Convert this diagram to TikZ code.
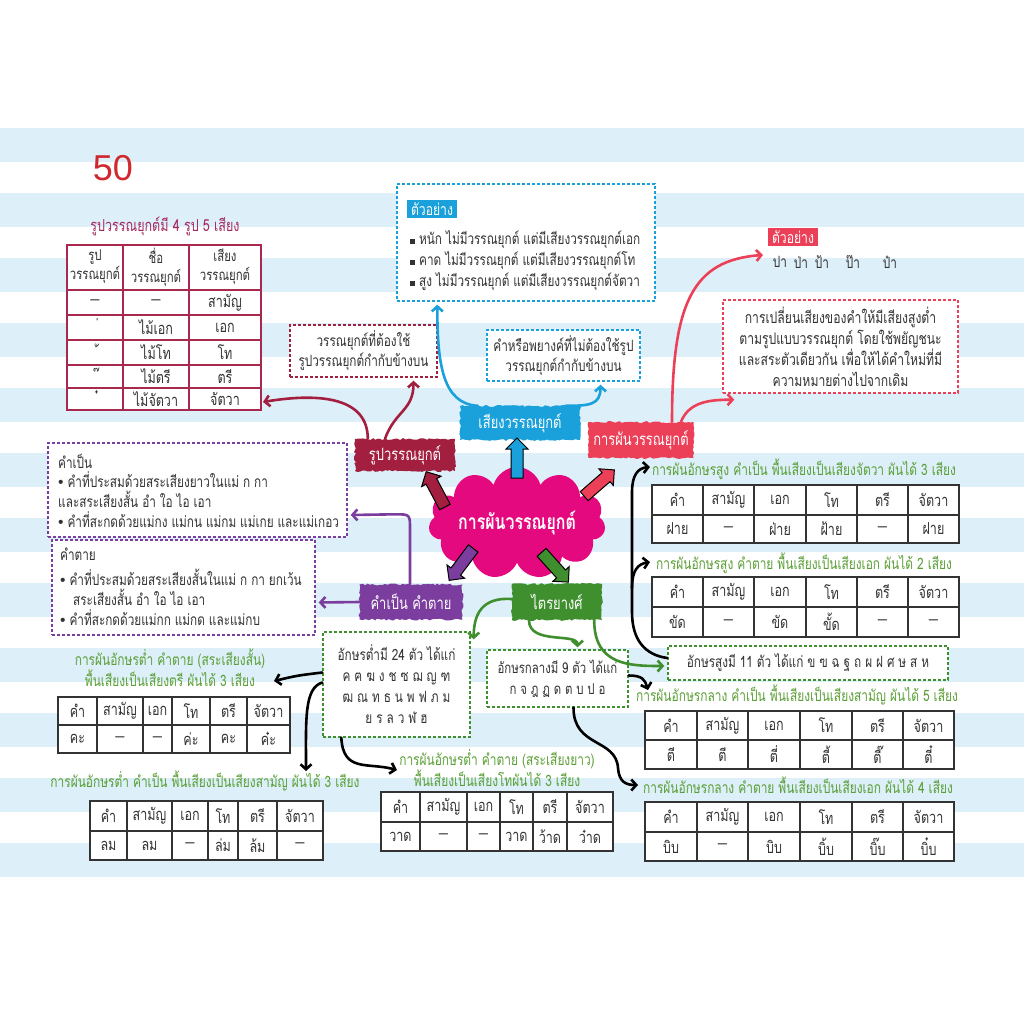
\documentclass[tikz,border=0pt]{standalone}
\usepackage{fontspec}
\setmainfont{Loma}[Script=Thai,FakeStretch=0.76]
\newfontfamily\lat{Liberation Sans}
\usetikzlibrary{shapes.symbols,shapes.arrows,decorations.pathmorphing,calc,arrows.meta}
\definecolor{stripe}{HTML}{DDEFF8}
\definecolor{crim}{HTML}{A31F3F}
\definecolor{tabred}{HTML}{A8284E}
\definecolor{mag}{HTML}{A32862}
\definecolor{cyn}{HTML}{1AA0DA}
\definecolor{rpink}{HTML}{EC4058}
\definecolor{purp}{HTML}{7B3D9E}
\definecolor{grn}{HTML}{3F8F2E}
\definecolor{tgreen}{HTML}{5A9F35}
\definecolor{cpink}{HTML}{E5097F}
\definecolor{numred}{HTML}{D0282E}
\definecolor{ink}{HTML}{333333}
\newcommand\fs[1]{\fontsize{#1}{#1}\selectfont}
\newcommand\dsh{{\lat –}}
\newcommand\bul{{\lat •}}
\newcommand\sqb{\rule[1pt]{5pt}{5pt}}
\newcommand\ttab[6]{%
  \foreach \xx [count=\kk] in {#2}{\expandafter\xdef\csname tbx\romannumeral\kk\endcsname{\xx}}%
  \fill[white] (\tbxi,#3) rectangle (\tbxvii,#5);
  \draw[tabline] (\tbxi,#3) rectangle (\tbxvii,#5);
  \draw[tabline] (\tbxi,#4) -- (\tbxvii,#4);
  \foreach \xx in {\tbxii,\tbxiii,\tbxiv,\tbxv,\tbxvi} \draw[tabline] (\xx,#3) -- (\xx,#5);
  \foreach \cc [count=\kk] in {คำ,สามัญ,เอก,โท,ตรี,จัตวา}{%
    \edef\xa{\csname tbx\romannumeral\kk\endcsname}%
    \edef\xb{\csname tbx\romannumeral\numexpr\kk+1\relax\endcsname}%
    \node[cell] (#1-h\kk) at ({(\xa+\xb)/2},{(#3+#4)/2}) {\cc};}
  \foreach \cc [count=\kk] in {#6}{%
    \edef\xa{\csname tbx\romannumeral\kk\endcsname}%
    \edef\xb{\csname tbx\romannumeral\numexpr\kk+1\relax\endcsname}%
    \node[cell] (#1-r\kk) at ({(\xa+\xb)/2},{(#4+#5)/2}) {\cc};}
}
\begin{document}
\begin{tikzpicture}[x=1pt,y=-1pt,
 txt/.style={inner sep=0pt, text=ink, font=\fs{15.5}},
 dbox/.style={draw=#1, dash pattern=on 3pt off 2pt, line width=1.4pt, fill=white, inner sep=0pt, text=ink, align=center, font=\fontsize{15.5}{20}\selectfont},
 banner/.style={fill=#1, text=white, inner sep=0pt, font=\fs{17}, decorate, decoration={random steps, segment length=2.5pt, amplitude=1pt}},
 tagbox/.style={fill=#1, text=white, inner xsep=4pt, inner ysep=3pt, font=\fs{16}},
 conn/.style={draw=#1, line width=2.6pt, line cap=round, -{Straight Barb[length=5pt,width=11pt]}},
 conn/.default=black,
 bigarrow/.style={single arrow, draw=black, line width=1pt, fill=#1, inner sep=5.5pt, single arrow head extend=5pt, minimum height=40pt},
 cell/.style={inner sep=0pt, font=\fs{16.5}, text=ink},
 tabline/.style={draw=ink, line width=1.1pt},
 gtitle/.style={inner sep=0pt, text=tgreen, font=\fontsize{15.7}{21}\selectfont, align=center},
]
\useasboundingbox (0,0) rectangle (1024,1024);
\fill[white] (0,0) rectangle (1024,1024);
\foreach \k in {0,...,11} \fill[stripe] (0,{128+65*\k}) rectangle (1024,{162+65*\k});

% page number
\node[text=numred, font=\lat\fs{36}, inner sep=0pt] (pg) at (113,168) {50};

% tone-mark table
\node[inner sep=0pt, text=mag, font=\fs{16.5}] (t1) at (165,226) {รูปวรรณยุกต์มี 4 รูป 5 เสียง};
\fill[white] (67,245) rectangle (261,410);
\draw[tabred, line width=1.2pt] (67,245) rectangle (261,410);
\foreach \x in {123,189} \draw[tabred, line width=1.2pt] (\x,245) -- (\x,410);
\foreach \y in {290,315,340,365,388} \draw[tabred, line width=1.2pt] (67,\y) -- (261,\y);
\node[cell, align=center, font=\fontsize{15}{19}\selectfont] (a1) at (95,267) {รูป\\วรรณยุกต์};
\node[cell, align=center, font=\fontsize{15}{19}\selectfont] (a2) at (156,267) {ชื่อ\\วรรณยุกต์};
\node[cell, align=center, font=\fontsize{15}{19}\selectfont] (a3) at (225,267) {เสียง\\วรรณยุกต์};
\node[cell] (b1) at (95,302.5) {\dsh};
\node[cell] (b2) at (156,302.5) {\dsh};
\node[cell] (b3) at (225,302.5) {สามัญ};
\node[cell] (c1) at (95,327.5) {\raisebox{-0.55em}{\phantom{ก}่}};
\node[cell] (c2) at (156,327.5) {ไม้เอก};
\node[cell] (c3) at (225,327.5) {เอก};
\node[cell] (d1) at (95,352.5) {\raisebox{-0.55em}{\phantom{ก}้}};
\node[cell] (d2) at (156,352.5) {ไม้โท};
\node[cell] (d3) at (225,352.5) {โท};
\node[cell] (e1) at (95,376.5) {\raisebox{-0.55em}{\phantom{ก}๊}};
\node[cell] (e2) at (156,376.5) {ไม้ตรี};
\node[cell] (e3) at (225,376.5) {ตรี};
\node[cell] (f1) at (95,399) {\raisebox{-0.55em}{\phantom{ก}๋}};
\node[cell] (f2) at (156,399) {ไม้จัตวา};
\node[cell] (f3) at (225,399) {จัตวา};
\coordinate (tab1arrow) at (263,402);

% example box (cyan)
\node[dbox=cyn, minimum width=258pt, minimum height=117pt] (exbox) at (526,242.5) {};
\node[tagbox=cyn] (extag) at (432,209) {ตัวอย่าง};
\node[txt, anchor=west] (ex1) at (410,240) {\sqb\ หนัก ไม่มีวรรณยุกต์ แต่มีเสียงวรรณยุกต์เอก};
\node[txt, anchor=west] (ex2) at (410,261) {\sqb\ คาด ไม่มีวรรณยุกต์ แต่มีเสียงวรรณยุกต์โท};
\node[txt, anchor=west] (ex3) at (410,282) {\sqb\ สูง ไม่มีวรรณยุกต์ แต่มีเสียงวรรณยุกต์จัตวา};

\node[dbox=crim, minimum width=147pt, minimum height=52pt] (rbox) at (363.5,351) {วรรณยุกต์ที่ต้องใช้\\รูปวรรณยุกต์กำกับข้างบน};
\node[dbox=cyn, minimum width=153pt, minimum height=51pt] (cbox) at (563.5,355.5) {คำหรือพยางค์ที่ไม่ต้องใช้รูป\\วรรณยุกต์กำกับข้างบน};

% top right
\node[tagbox=rpink] (extag2) at (793,237) {ตัวอย่าง};
\node[txt] (w1) at (780,262) {ปา};
\node[txt] (w2) at (801,262) {ป่า};
\node[txt] (w3) at (822,262) {ป้า};
\node[txt] (w4) at (853,262) {ป๊า};
\node[txt] (w5) at (890,262) {ป๋า};
\coordinate (exarrow) at (763,255);
\node[dbox=rpink, minimum width=235pt, minimum height=93pt, font=\fontsize{16}{21}\selectfont] (defbox) at (840.5,346.5) {การเปลี่ยนเสียงของคำให้มีเสียงสูงต่ำ\\ตามรูปแบบวรรณยุกต์ โดยใช้พยัญชนะ\\และสระตัวเดียวกัน เพื่อให้ได้คำใหม่ที่มี\\ความหมายต่างไปจากเดิม};

% banners
\node[banner=crim, minimum width=100pt, minimum height=32pt] (bn1) at (405,455) {รูปวรรณยุกต์};
\node[banner=cyn, minimum width=120pt, minimum height=34pt] (bn2) at (520,423) {เสียงวรรณยุกต์};
\node[banner=rpink, minimum width=105pt, minimum height=36pt] (bn3) at (641,440) {การผันวรรณยุกต์};
\node[banner=purp, minimum width=103pt, minimum height=35pt] (bn4) at (411,602) {คำเป็น คำตาย};
\node[banner=grn, minimum width=90pt, minimum height=36pt] (bn5) at (557,602) {ไตรยางศ์};

% centre
\node[cloud, cloud puffs=11, aspect=2.1, fill=cpink, text=white, font=\bfseries\fs{21}, minimum width=152pt, minimum height=86pt, inner sep=0pt] (ctr) at (517,523) {การผันวรรณยุกต์};
\node[bigarrow=crim, rotate=118] (ba1) at (437,492) {};
\node[bigarrow=cyn, rotate=90] (ba2) at (517,461) {};
\node[bigarrow=rpink, rotate=41] (ba3) at (597,485) {};
\node[bigarrow=purp, rotate=233] (ba4) at (463,562) {};
\node[bigarrow=grn, rotate=312] (ba5) at (553,565) {};

% live / dead boxes
\node[dbox=purp, minimum width=299pt, minimum height=94pt] (livebox) at (197.5,490) {};
\node[txt, anchor=west] (lv0) at (58,461) {คำเป็น};
\node[txt, anchor=west] (lv1) at (58,480) {\bul\ คำที่ประสมด้วยสระเสียงยาวในแม่ ก กา};
\node[txt, anchor=west] (lv2) at (58,499) {และสระเสียงสั้น อำ ใอ ไอ เอา};
\node[txt, anchor=west] (lv3) at (58,520) {\bul\ คำที่สะกดด้วยแม่กง แม่กน แม่กม แม่เกย และแม่เกอว};
\node[dbox=purp, minimum width=263pt, minimum height=95pt] (deadbox) at (183.5,587.5) {};
\node[txt, anchor=west] (dd0) at (60,554) {คำตาย};
\node[txt, anchor=west] (dd1) at (60,577) {\bul\ คำที่ประสมด้วยสระเสียงสั้นในแม่ ก กา ยกเว้น};
\node[txt, anchor=west] (dd2) at (73,597) {สระเสียงสั้น อำ ใอ ไอ เอา};
\node[txt, anchor=west] (dd3) at (60,618) {\bul\ คำที่สะกดด้วยแม่กก แม่กด และแม่กบ};

% consonant boxes
\node[dbox=grn, minimum width=147pt, minimum height=105pt, font=\fontsize{15.5}{21}\selectfont] (lowbox) at (396.5,684.5) {อักษรต่ำมี 24 ตัว ได้แก่\\ค ฅ ฆ ง ช ซ ฌ ญ ฑ\\ฒ ณ ท ธ น พ ฟ ภ ม\\ย ร ล ว ฬ ฮ};
\node[dbox=grn, minimum width=141pt, minimum height=57pt, font=\fontsize{15}{21}\selectfont] (midbox) at (557.5,678.5) {อักษรกลางมี 9 ตัว ได้แก่\\ก จ ฎ ฏ ด ต บ ป อ};
\node[dbox=grn, minimum width=280pt, minimum height=34pt] (highbox) at (808,663) {อักษรสูงมี 11 ตัว ได้แก่ ข ฃ ฉ ฐ ถ ผ ฝ ศ ษ ส ห};

% tables
\node[gtitle] (th1) at (804,469) {การผันอักษรสูง คำเป็น พื้นเสียงเป็นเสียงจัตวา ผันได้ 3 เสียง};
\ttab{T1}{652,703,754,806,857,908,959}{485}{515}{543}{ฝาย,\dsh,ฝ่าย,ฝ้าย,\dsh,ฝาย}
\node[gtitle] (th2) at (804,563) {การผันอักษรสูง คำตาย พื้นเสียงเป็นเสียงเอก ผันได้ 2 เสียง};
\ttab{T2}{652,703,754,806,857,908,959}{577}{607}{637}{ขัด,\dsh,ขัด,ขั้ด,\dsh,\dsh}
\node[gtitle] (tm1) at (797,695) {การผันอักษรกลาง คำเป็น พื้นเสียงเป็นเสียงสามัญ ผันได้ 5 เสียง};
\ttab{T3}{645,697,748,800,852,903,954}{711}{740}{769}{ตี,ตี,ตี่,ตี้,ตี๊,ตี๋}
\node[gtitle] (tm2) at (798,785) {การผันอักษรกลาง คำตาย พื้นเสียงเป็นเสียงเอก ผันได้ 4 เสียง};
\ttab{T4}{645,697,748,800,852,903,954}{802}{832}{861}{บิบ,\dsh,บิบ,บิ้บ,บิ๊บ,บิ๋บ}
\node[gtitle] (tl1) at (170,668) {การผันอักษรต่ำ คำตาย (สระเสียงสั้น)\\พื้นเสียงเป็นเสียงตรี ผันได้ 3 เสียง};
\ttab{T5}{58,97,143,172,210,247,290}{697}{725}{753}{คะ,\dsh,\dsh,ค่ะ,คะ,ค๋ะ}
\node[gtitle] (tl2) at (205,781) {การผันอักษรต่ำ คำเป็น พื้นเสียงเป็นเสียงสามัญ ผันได้ 3 เสียง};
\ttab{T6}{90,127,172,208,238,277,323}{801}{831}{860}{ลม,ลม,\dsh,ล่ม,ล้ม,\dsh}
\node[gtitle] (tl3) at (497,768) {การผันอักษรต่ำ คำตาย (สระเสียงยาว)\\พื้นเสียงเป็นเสียงโทผันได้ 3 เสียง};
\ttab{T7}{381,420,467,500,533,567,613}{792}{822}{851}{วาด,\dsh,\dsh,วาด,ว้าด,ว๋าด}

% arrow targets
\coordinate (th1in) at (650,467);
\coordinate (th2in) at (650,562);
\coordinate (tm1in) at (648,690);
\coordinate (tm2in) at (638,785);
\coordinate (tl1in) at (274,681);
\coordinate (tl2in) at (306,771);
\coordinate (tl3in) at (397,770);

% connectors
\draw[conn=crim] ($(bn1.north west)+(13,0)$) .. controls +(0,-40) and +(60,-10) .. (tab1arrow);
\draw[conn=crim] ($(bn1.north)+(-20,0)$) .. controls +(10,-28) and +(0,30) .. ($(rbox.south)+(50,3)$);
\draw[conn=cyn] ($(bn2.north west)+(18,0)$) .. controls +(-35,-2) and +(0,60) .. ($(exbox.south west)+(41,3)$);
\draw[conn=cyn] ($(bn2.north east)+(-15,0)$) .. controls +(25,0) and +(0,20) .. ($(cbox.south)+(37,3)$);
\draw[conn=rpink] ($(bn3.north)+(31,0)$) .. controls +(0,-120) and +(-70,5) .. (exarrow);
\draw[conn=rpink] ($(bn3.north)+(40,0)$) .. controls +(8,-20) and +(-25,0) .. ($(defbox.south west)+(12,6)$);
\draw[conn=purp] ($(bn4.north)+(-1,0)$) -- ++(0,-55) .. controls +(0,-15) .. ++(-15,-15) -- ($(livebox.east)+(3,25)$);
\draw[conn=purp] (bn4.west) -- ($(deadbox.east)+(3,15)$);
\draw[conn=grn] ($(bn5.west)+(0,-3)$) .. controls +(-30,-2) and +(0,-25) .. ($(lowbox.north east)+(3,8)$);
\draw[conn=grn] ($(bn5.south)+(-28,0)$) .. controls +(0,25) and +(0,-15) .. ($(midbox.north)+(20,-2)$);
\draw[conn=grn] ($(bn5.south east)+(-8,0)$) .. controls +(0,45) and +(-35,0) .. ($(highbox.west)+(-3,3)$);
\draw[conn] ($(highbox.west)+(0,-5)$) .. controls (645,655) and (632,640) .. (632,612) -- (632,492) .. controls (632,475) and (638,468) .. (th1in);
\draw[conn] (632,588) .. controls (632,570) and (638,564) .. (th2in);
\draw[conn] ($(midbox.east)+(0,-3)$) .. controls +(14,0) and +(-3,-10) .. (tm1in);
\draw[conn] ($(midbox.south)+(16,0)$) .. controls +(0,40) and (616,738) .. (618,768) .. controls (619,782) and (626,785) .. (tm2in);
\draw[conn] ($(lowbox.west)+(0,-12)$) .. controls +(-25,3) .. (tl1in);
\draw[conn] ($(lowbox.west)+(0,-2)$) .. controls (304,688) and (306,720) .. (tl2in);
\draw[conn] ($(lowbox.south west)+(19,0)$) .. controls +(2,35) and +(-30,-8) .. (tl3in);
\end{tikzpicture}
\end{document}
